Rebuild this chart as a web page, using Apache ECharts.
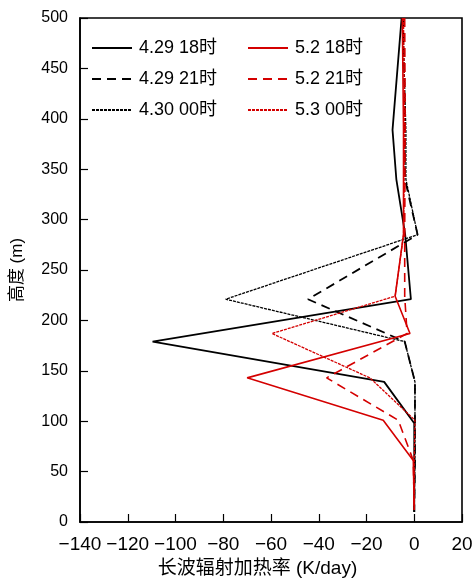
<!DOCTYPE html>
<html><head><meta charset="utf-8">
<script src="https://cdn.jsdelivr.net/npm/echarts@6/dist/echarts.min.js"></script>
<style>html,body{margin:0;padding:0;background:#fff}#c{width:474px;height:583px}</style>
</head><body><div id="c"></div>
<script>
// Heights (m) of profile levels
const hBlack = [500, 389, 340, 285, 221, 179, 139, 98, 60, 10];
const hRed   = [500, 390, 285, 224, 187, 143, 101, 61, 12];
// Longwave radiative heating rate (K/day)
const s429_18 = [-5.3, -9.1, -7.5, -3.8, -1.4, -109.6, -12.6, 0, 0, 0];
const s429_21 = [-4.5, -3.9, -3.9, 1.4, -44.5, -4, 0.3, 0.3, 0.3, 0];
const s430_00 = [-4.8, -3.5, -3.5, 1.4, -79, -4, 0.3, 0.3, 0.3, 0];
const s52_18  = [-5, -4.5, -4.5, -8, -1.8, -70, -13, -0.4, 0];
const s52_21  = [-4, -3.8, -4, -4, -3, -36.7, -6.7, -0.4, 0];
const s53_00  = [-4.5, -4, -4.5, -8, -59.6, -18.6, 0.3, 0, 0];
const names = ['4.29 18时', '4.29 21时', '4.30 00时', '5.2 18时', '5.2 21时', '5.3 00时'];
const xTicks = {min: -140, max: 20, step: 20};
const yTicks = {min: 0, max: 500, step: 50};

const BLACK = '#000000', RED = '#d40000';
const FONT = '"Liberation Sans", Arial, "Noto Sans CJK SC", sans-serif';
function pairs(xs, hs) { return xs.map((v, i) => [v, hs[i]]); }
function mk(name, xs, hs, color, type, width) {
  return { name, type: 'line', data: pairs(xs, hs), symbol: 'none', showSymbol: false,
    lineStyle: { color, type, width }, itemStyle: { color }, z: 3, animation: false };
}
const DASH = [9, 6], DOT = [3, 1];
const series = [
  mk(names[0], s429_18, hBlack, BLACK, 'solid', 1.8),
  mk(names[1], s429_21, hBlack, BLACK, DASH, 1.8),
  mk(names[2], s430_00, hBlack, BLACK, DOT, 1.3),
  mk(names[3], s52_18, hRed, RED, 'solid', 1.6),
  mk(names[4], s52_21, hRed, RED, DASH, 1.6),
  mk(names[5], s53_00, hRed, RED, DOT, 1.3)
];
function legendAt(left, data) {
  return { orient: 'vertical', left: left, top: 34, itemWidth: 40, itemHeight: 14, itemGap: 13,
    textStyle: { fontSize: 18, color: '#000', fontFamily: FONT, padding: [0, 0, 0, 2] },
    itemStyle: { opacity: 0 },
    selectedMode: false, data: data };
}
const chart = echarts.init(document.getElementById('c'), null, { renderer: 'canvas' });
chart.setOption({
  animation: false,
  backgroundColor: '#fff',
  grid: { left: 80, right: 12, top: 18, bottom: 61, show: true, borderColor: '#000', borderWidth: 1.6,
    outerBoundsMode: 'none', containLabel: false },
  legend: [ legendAt(86, names.slice(0, 3)), legendAt(242, names.slice(3)) ],
  xAxis: {
    type: 'value', min: xTicks.min, max: xTicks.max, interval: xTicks.step,
    name: '长波辐射加热率 (K/day)', nameLocation: 'middle', nameGap: 37,
    nameTextStyle: { fontSize: 19, color: '#000', fontFamily: FONT, padding: [0, 27, 0, 0] },
    axisLine: { show: true, onZero: false, lineStyle: { color: '#000', width: 1.6 } },
    axisTick: { show: true, inside: true, length: 8, lineStyle: { color: '#000', width: 1.2 } },
    axisLabel: { fontSize: 19, color: '#000', fontFamily: FONT, margin: 13, hideOverlap: false,
      formatter: v => String(v).replace('-', '\u2212') },
    splitLine: { show: false }
  },
  yAxis: {
    type: 'value', min: yTicks.min, max: yTicks.max, interval: yTicks.step,
    name: '高度 (m)', nameLocation: 'middle', nameGap: 54, nameRotate: 90,
    nameTextStyle: { fontSize: 17, color: '#000', fontFamily: FONT },
    axisLine: { show: true, onZero: false, lineStyle: { color: '#000', width: 1.6 } },
    axisTick: { show: true, inside: true, length: 8, lineStyle: { color: '#000', width: 1.2 } },
    axisLabel: { fontSize: 16, color: '#000', fontFamily: FONT, margin: 12 },
    splitLine: { show: false }
  },
  series
});
</script></body></html>
